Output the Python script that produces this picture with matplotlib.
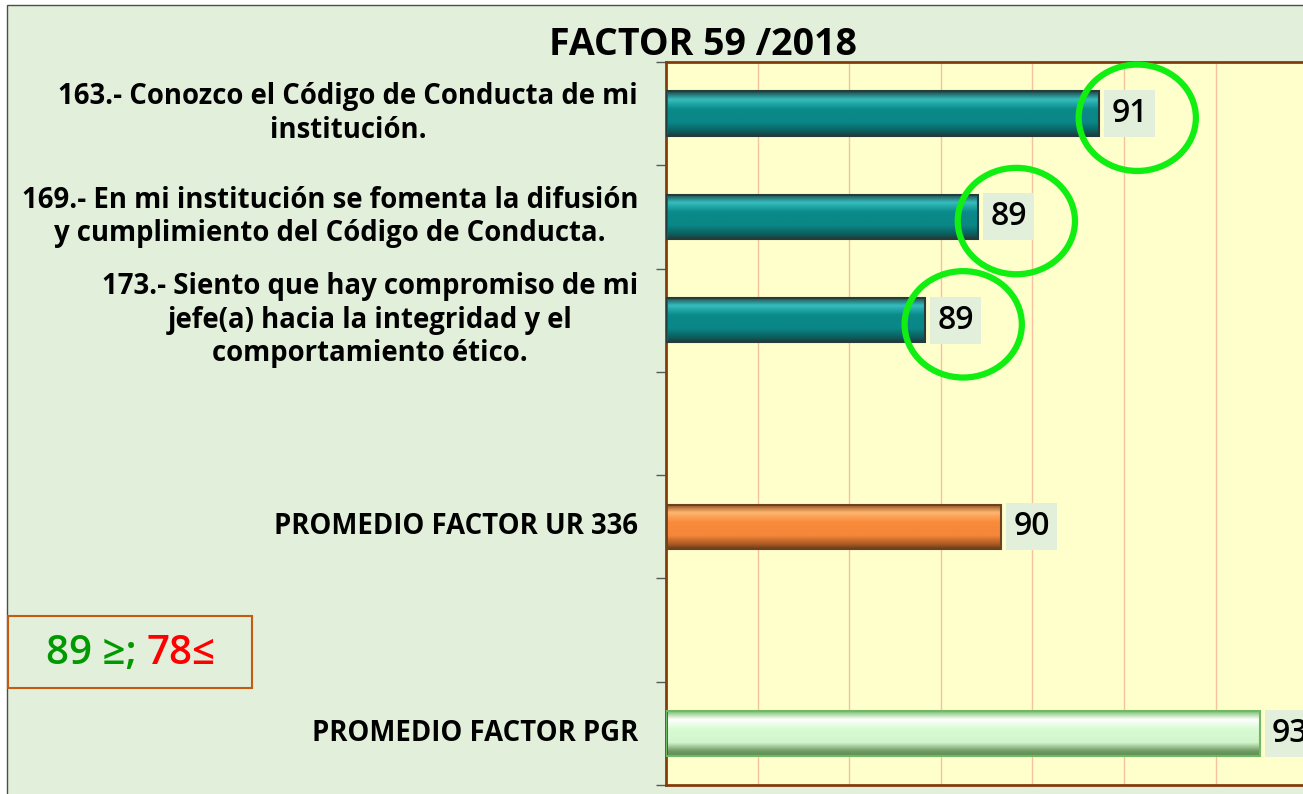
import numpy as np
import matplotlib
matplotlib.use("Agg")
import matplotlib.pyplot as plt
from matplotlib.colors import LinearSegmentedColormap
from matplotlib.patches import Ellipse, Rectangle

# values; blank rows are the empty gaps of the source table
categories = [
    "163.- Conozco el Código de Conducta de mi\ninstitución.",
    "169.- En mi institución se fomenta la difusión\ny cumplimiento del Código de Conducta.",
    "173.- Siento que hay compromiso de mi\njefe(a) hacia la integridad y el\ncomportamiento ético.",
    "",
    "PROMEDIO FACTOR UR 336",
    "",
    "PROMEDIO FACTOR PGR",
]
values = [90.73, 89.41, 88.83, np.nan, 89.66, np.nan, 92.48]
value_labels = ["91", "89", "89", "", "90", "", "93"]
circled = [True, True, True, False, False, False, False]
kinds = ["item", "item", "item", "", "ur", "", "pgr"]

title = "FACTOR 59 /2018"
legend_good = "89 ≥;"
legend_bad = "78≤"

# bar shading, top to bottom, plus the outline colour
styles = {
    "item": (["#1f4848", "#35bdbd", "#0a8a8a", "#0a8686", "#0b5e5e", "#233c3c"], "#263c3c"),
    "ur": (["#8a4d1e", "#ffb56f", "#f98b3a", "#f5863a", "#a95a22", "#6a3f1c"], "#6e4020"),
    "pgr": (["#7cc272", "#ffffff", "#d8fbd3", "#d2f5cc", "#6e9a62", "#5e8e52"], "#72b765"),
}

W, H = 1303, 794
plt.rcParams["font.family"] = ["Open Sans", "DejaVu Sans"]

fig = plt.figure(figsize=(W / 100, H / 100), dpi=100, facecolor="white")

# light green card behind everything
fig.patches.append(
    Rectangle((7 / W, -0.1), 1.2, 1.1 - 5 / H, transform=fig.transFigure,
              fc="#e2efda", ec="#4d4d4d", lw=1, zorder=-5)
)

x_min = 86
unit_px = 91.6
ax = fig.add_axes([666 / W, 9 / H, 8 * unit_px / W, (785 - 62) / H])
ax.set_facecolor("#ffffcc")

ax.set_xticks(np.arange(x_min + 1, x_min + 8))
ax.tick_params(axis="x", length=0, labelbottom=False)
ax.xaxis.grid(True, color="#f6c1a0", lw=1)
ax.set_axisbelow(True)

ax.set_yticks(np.arange(len(categories) + 1) - 0.5)
ax.tick_params(axis="y", length=7, width=1, color="#595959", labelleft=False)

for side in ["left", "bottom", "top"]:
    ax.spines[side].set_color("#843c0c")
    ax.spines[side].set_linewidth(2)
ax.spines["right"].set_visible(False)

bar_h = 0.43
grad = np.linspace(0, 1, 64).reshape(-1, 1)
for i, (cat, v, lbl, kind) in enumerate(zip(categories, values, value_labels, kinds)):
    if cat:
        ax.annotate(cat, xy=(0, i), xycoords=("axes fraction", "data"),
                    xytext=(-28, 0), textcoords="offset pixels",
                    ha="right", va="center", multialignment="center",
                    fontsize=19.8, fontweight="bold", linespacing=1.2,
                    annotation_clip=False)
    if np.isnan(v):
        continue
    shades, edge = styles[kind]
    cmap = LinearSegmentedColormap.from_list(
        kind, list(zip([0, 0.18, 0.4, 0.7, 0.9, 1], shades)))
    ax.imshow(grad, cmap=cmap, aspect="auto", interpolation="bilinear",
              extent=[x_min, v, i + bar_h / 2, i - bar_h / 2], zorder=2)
    ax.barh(i, v - x_min, left=x_min, height=bar_h, fill=False,
            edgecolor=edge, lw=1.5, zorder=3)
    ax.annotate(lbl, xy=(v, i), xytext=(12, 0), textcoords="offset pixels",
                ha="left", va="center", fontsize=23, fontweight="semibold",
                bbox=dict(boxstyle="square,pad=0.22", fc="#e2efda", ec="none"),
                zorder=5, annotation_clip=False)

# imshow resets the limits, set them after drawing
ax.set_xlim(x_min, x_min + 8)
ax.set_ylim(len(categories) - 0.5, -0.5)

for i, (v, c) in enumerate(zip(values, circled)):
    if c:
        ax.add_patch(Ellipse((v + 38 / unit_px, i + 0.04), 1.28, 1.03,
                             fill=False, ec="#11ee11", lw=4.5, zorder=6,
                             clip_on=False))

fig.text(703 / W, 1 - 45 / H, title, ha="center", va="center",
         fontsize=27, fontweight="bold")

# threshold box in the lower left
fig.patches.append(
    Rectangle((8 / W, 1 - 688 / H), 244 / W, 72 / H, transform=fig.transFigure,
              fc="none", ec="#c55a11", lw=1.5)
)
fig.text(137 / W, 1 - 654 / H, legend_good, color="#009a00", ha="right",
         va="center", fontsize=29, fontweight="semibold")
fig.text(146 / W, 1 - 654 / H, legend_bad, color="#ff0000", ha="left",
         va="center", fontsize=29, fontweight="semibold")

fig.savefig("out.png", dpi=100, facecolor=fig.get_facecolor())
